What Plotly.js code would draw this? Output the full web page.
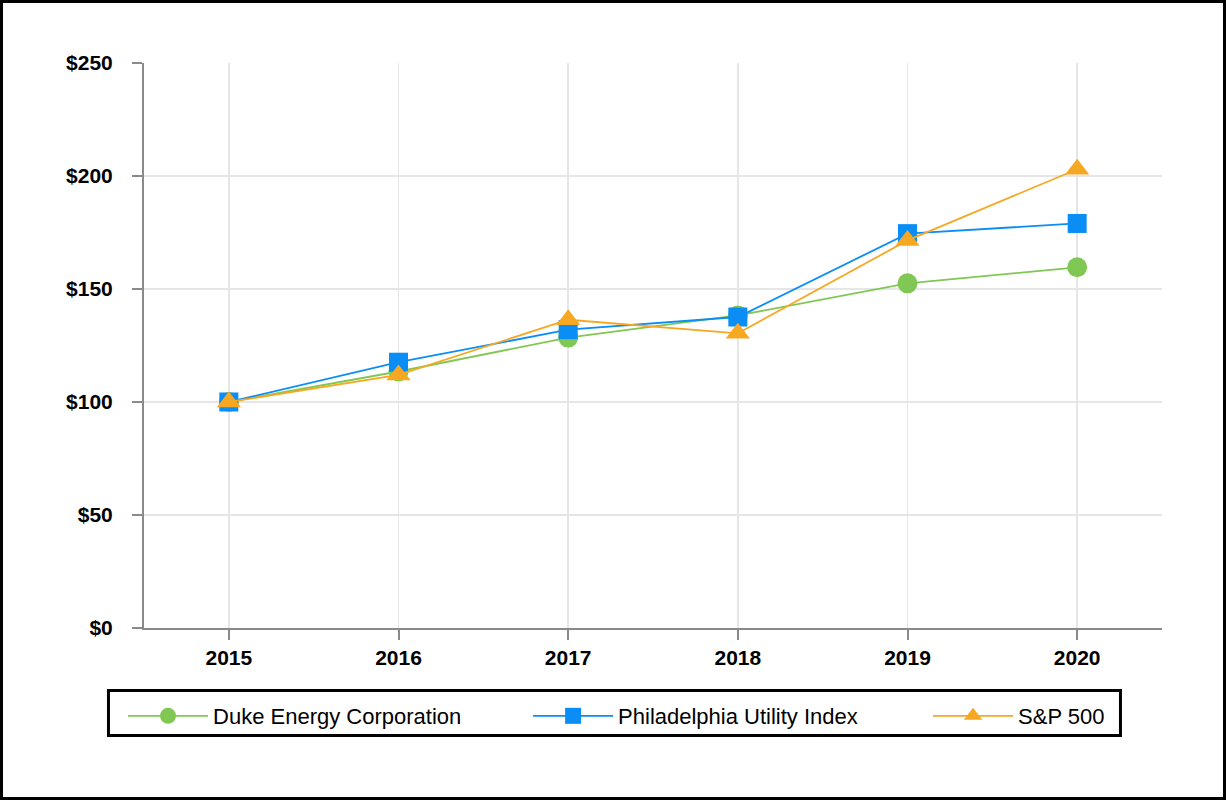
<!DOCTYPE html>
<html>
<head>
<meta charset="utf-8">
<script src="https://cdn.plot.ly/plotly-3.0.1.min.js"></script>
<style>
html,body{margin:0;padding:0;background:#fff;}
#frame{position:absolute;left:0;top:0;width:1226px;height:800px;box-sizing:border-box;border:3px solid #000;background:#fff;}
#chart{position:absolute;left:0;top:0;width:1220px;height:794px;}
</style>
</head>
<body>
<div id="frame"><div id="chart"></div></div>
<script>
const years = [2015, 2016, 2017, 2018, 2019, 2020];
const duke = [100, 113.5, 128.5, 138.3, 152.5, 159.6];
const phlx = [100, 117.6, 132.0, 137.6, 174.5, 179.0];
const sp500 = [100, 112.0, 136.4, 130.4, 171.5, 203.0];
const seriesNames = ['Duke Energy Corporation', 'Philadelphia Utility Index', 'S&P 500'];
const yTicks = [0, 50, 100, 150, 200, 250];

const font = 'Liberation Sans, Arial, sans-serif';

const traces = [
  {x: years, y: duke, name: seriesNames[0], mode: 'lines+markers', legend: 'legend',
   line: {color: '#80c853', width: 1.8},
   marker: {symbol: 'circle', size: 20, color: '#80c853'}},
  {x: years, y: phlx, name: seriesNames[1], mode: 'lines+markers', legend: 'legend2',
   line: {color: '#0a8ef5', width: 1.8},
   marker: {symbol: 'square', size: 19, color: '#0a8ef5'}},
  {x: years, y: sp500, name: seriesNames[2], mode: 'lines+markers', legend: 'legend3',
   line: {color: '#f7a823', width: 1.8},
   marker: {symbol: 'triangle-up', size: 21, color: '#f7a823'}}
];

function leg(x) {
  return {
    orientation: 'h', x: x, xanchor: 'left', y: -0.1558, yanchor: 'middle',
    borderwidth: 0, bgcolor: 'rgba(0,0,0,0)',
    font: {family: font, size: 22, color: '#000'},
    itemwidth: 80, itemsizing: 'trace'
  };
}

const layout = {
  width: 1220, height: 794,
  margin: {l: 141, r: 61, t: 60, b: 169},
  paper_bgcolor: '#fff', plot_bgcolor: '#fff',
  font: {family: font, color: '#000'},
  showlegend: true,
  xaxis: {
    range: [2014.5, 2020.5], tickvals: years, ticktext: years.map(String),
    showgrid: true, gridcolor: '#e6e6e6', gridwidth: 1.5,
    showline: true, linecolor: '#8a8a8a', linewidth: 2,
    ticks: 'outside', ticklen: 10, tickcolor: '#8a8a8a', tickwidth: 2,
    tickfont: {family: font, size: 21, color: '#000', weight: 'bold'},
    ticklabelstandoff: 0,
    zeroline: false, fixedrange: true
  },
  yaxis: {
    range: [0, 250], tickvals: yTicks, ticktext: yTicks.map(v => '$' + v),
    showgrid: true, gridcolor: '#e6e6e6', gridwidth: 1.5,
    showline: true, linecolor: '#8a8a8a', linewidth: 2,
    ticks: 'outside', ticklen: 10, tickcolor: '#8a8a8a', tickwidth: 2,
    tickfont: {family: font, size: 21, color: '#000', weight: 'bold'},
    ticklabelstandoff: 15,
    zeroline: false, fixedrange: true
  },
  legend: leg(-0.0206),
  legend2: leg(0.3773),
  legend3: leg(0.7702),
  shapes: [{
    type: 'rect', xref: 'paper', yref: 'paper',
    x0: -0.0349, x1: 0.9592, y0: -0.1106, y1: -0.1903,
    line: {color: '#000', width: 3}, fillcolor: 'rgba(0,0,0,0)', layer: 'below'
  }]
};

Plotly.newPlot('chart', traces, layout, {displayModeBar: false, staticPlot: true});
</script>
</body>
</html>
